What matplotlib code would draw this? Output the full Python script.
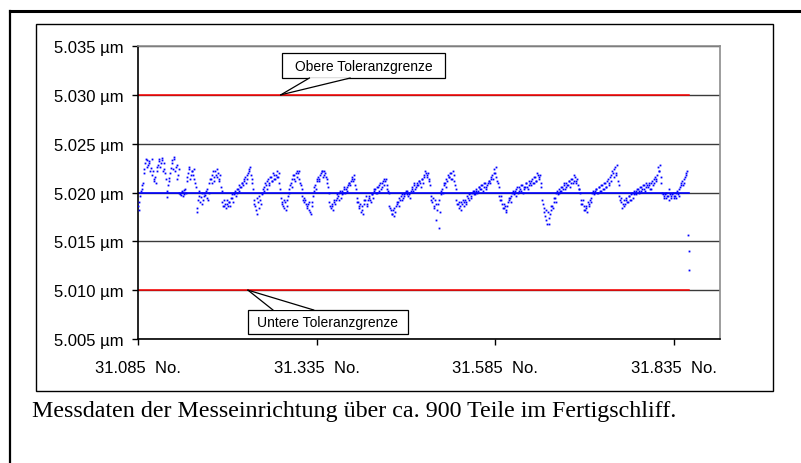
import numpy as np
import matplotlib.pyplot as plt
from matplotlib.patches import Rectangle, Polygon
from matplotlib.lines import Line2D

# Messwerte: Abweichung vom Nennmass 5.020 um, in 0.1 nm
# dev_a = gerade Teilenummern, dev_b = ungerade Teilenummern
dev_a = [-14, -10, 2, 8,
         20, 30, 33, 28, 32, 25,
         18, 12, 16, 22,
         28, 34, 30, 33, 24, 20,
         -5, 8, 15,
         25, 30, 34, 22, 28, 18,
         0, -3, 2, -2, 4,
         12, 20, 24, 18, 22, 14, 10,
         -16, -8, 2, -5, -12, 0, -3, 4, -8,
         10, 14, 18, 12, 22, 16, 20, 14, 6,
         -10, -14, -12, -8, -14, -10, -6,
         -6, -2, 2, 0, 4, 8, 6, 10, 12, 16, 14, 20, 24,
         18, 10,
         -8, -14, -22, -10, -4, -12,
         0, 6, 10, 4, 14, 10, 16, 12, 18, 14, 22, 16, 10,
         -6, -12, -16, -10, -14, -4,
         4, 10, 14, 18, 12, 22, 20, 14, 8,
         -4, -10, -8, -14, -12, -18, -22, -10,
         2, 8, 12, 16, 14, 20, 22, 18, 20, 14, 6,
         -10, -16, -14, -8, -12, -6,
         -4, 0, -6, 2, 4, 0, 6, 8, 10, 12, 16, 14, 8,
         -6, -10, -16, -20, -14, -12, -8,
         -12, -8, -4, -10, -2, 2, 4, 0, 6, 8, 4, 10, 14, 12, 8, 2,
         -14, -18, -22, -16, -20, -12,
         -10, -6, -4, -8, -2, 0, 2, -4, -2,
         2, 6, 8, 4, 10, 8, 12, 6, 14, 18, 22, 16, 20, 12,
         -4, -10, -14, -8, -28, -12, -36,
         -2, 4, 8, 10, 14, 18, 16, 20, 14, 18, 8,
         -8, -12, -16, -10, -12, -14, -8, -10,
         -6, -2, -4, 0, 2, -2, 4, 2, 6, 4, 8, 6, 10, 6, 10, 12, 14, 18, 24, 20, 16, 10,
         -4, -8, -12, -16, -14, -20, -10,
         -8, -4, 0, -2, 2, 4, 0, 6, 2, 8, 4, 6, 10, 4, 12, 8, 14, 10, 16, 12, 18, 14, 10,
         -8, -16, -24, -28, -20, -32, -18, -14, -10,
         -6, 0, -2, 4, 2, 6, 8, 4, 10, 8, 12, 10, 14, 12, 16, 10, 8, 4,
         -8, -12, -14, -18, -16, -10, -14, -6,
         0, -2, 2, 4, 0, 6, 2, 8, 4, 10, 6, 14, 10, 18, 22, 16, 26, 20, 12,
         -4, -10, -16, -8, -12, -6, -10, -4, -8, 0, -2,
         0, 2, 4, 2, 6, 4, 8, 2, 10, 6, 8, 4, 12, 10, 16, 14, 26, 22, 16,
         0, -4, -2, -6, -4, 4, -4, -2, -6, -4, 0, -2,
         4, 8, 12, 10, 16, 20]

dev_b = [-18, -4, 4, 10,
         24, 34, 26, 30, 22, 34,
         22, 14, 10, 26,
         32, 26, 35, 22, 30, 14,
         2, 12, 20,
         33, 24, 36, 26, 14, 24,
         -2, 1, -4, 3, 0,
         16, 26, 14, 22, 18, 24, 6,
         -20, -4, -10, 0, -8, -4, 2, -6, 0,
         14, 10, 22, 16, 18, 24, 12, 18, 2,
         -14, -8, -16, -12, -10, -14, -2,
         -10, 0, -4, 4, 2, 6, 10, 8, 14, 10, 18, 22, 26,
         14, 4,
         -12, -18, -6, -16, -8, -2,
         4, 2, 8, 12, 8, 16, 12, 20, 14, 18, 16, 20, 4,
         -10, -14, -8, -18, -8, 0,
         8, 6, 18, 14, 20, 16, 22, 10, 4,
         -8, -6, -12, -16, -10, -20, -14, -4,
         6, 4, 14, 12, 18, 22, 16, 22, 16, 10, 0,
         -14, -12, -18, -10, -8, -2,
         -8, 2, -2, 0, 6, 4, 2, 10, 8, 14, 12, 18, 4,
         -10, -14, -12, -18, -22, -8, -4,
         -14, -6, -8, -2, -6, 4, 0, 6, 2, 10, 6, 12, 8, 14, 4, 0,
         -16, -22, -18, -24, -14, -10,
         -14, -8, -2, -6, -4, 2, -2, 0, -6,
         4, 2, 10, 6, 8, 12, 10, 14, 10, 16, 20, 18, 14, 8,
         -8, -6, -16, -12, -18, -8, -20,
         2, 0, 10, 6, 12, 16, 20, 14, 22, 12, 4,
         -12, -10, -14, -18, -8, -10, -12, -4,
         -8, 0, -6, 2, -2, 2, 0, 6, 4, 8, 2, 10, 4, 8, 12, 10, 16, 14, 20, 26, 12, 6,
         -8, -4, -16, -12, -18, -14, -6,
         -6, -10, 2, 0, -4, 6, 2, 4, 8, 0, 6, 10, 6, 8, 10, 12, 10, 16, 12, 20, 16, 18, 6,
         -12, -20, -18, -32, -26, -22, -14, -16, -6,
         -10, 2, 0, 2, 6, 4, 10, 6, 8, 12, 6, 14, 10, 18, 12, 14, 4, 0,
         -12, -8, -18, -14, -20, -12, -8, -10,
         2, 0, 4, 0, 6, 2, 8, 4, 10, 6, 12, 8, 16, 12, 20, 24, 18, 28, 8,
         -8, -6, -12, -14, -8, -10, -4, -8, -2, -6, 2,
         -2, 4, 0, 6, 2, 8, 4, 6, 8, 10, 4, 10, 8, 14, 12, 18, 22, 28, 10,
         -2, -6, 0, -4, -8, -2, -6, 0, -4, -6, 2, -4,
         6, 10, 8, 14, 18, 22]

# die drei letzten Teile (Ausreisser)
dev_end = [-44, -60, -79]

start_no = 31085
nominal = 5.020
upper_tol = 5.030
lower_tol = 5.010

xticks = [31085, 31335, 31585, 31835]
xtick_labels = ['31.085  No.', '31.335  No.', '31.585  No.', '31.835  No.']
yticks = [5.005, 5.010, 5.015, 5.020, 5.025, 5.030, 5.035]
ytick_labels = ['5.005 µm', '5.010 µm', '5.015 µm', '5.020 µm',
                '5.025 µm', '5.030 µm', '5.035 µm']

caption = 'Messdaten der Messeinrichtung über ca. 900 Teile im Fertigschliff.'

n = len(dev_a)
parts = np.empty(2 * n + len(dev_end))
dev = np.empty_like(parts)
parts[0:2 * n:2] = start_no + 2 * np.arange(n)
parts[1:2 * n:2] = start_no + 2 * np.arange(n) + 1
dev[0:2 * n:2] = dev_a
dev[1:2 * n:2] = dev_b
parts[2 * n:] = start_no + 2 * n + np.arange(len(dev_end))
dev[2 * n:] = dev_end
values = nominal + dev / 10000.0

W, H = 801, 464
fig = plt.figure(figsize=(W / 100, H / 100), dpi=100)
plt.rcParams['font.family'] = ['Liberation Sans', 'DejaVu Sans']

def fx(px):
    return px / W

def fy(py):
    return 1 - py / H

ax = fig.add_axes([fx(138), fy(340), fx(720 - 138), (340 - 47) / H])

# Gitterlinien
for yv in yticks:
    ax.axhline(yv, color='#3a3a3a', lw=1.0, zorder=1)

# Nennmass und Toleranzgrenzen ueber den Datenbereich
x_rng = [parts[0], parts[-1]]
ax.plot(x_rng, [upper_tol, upper_tol], color='#ff0000', lw=1.1, zorder=2)
ax.plot(x_rng, [lower_tol, lower_tol], color='#ff0000', lw=1.1, zorder=2)
ax.plot(x_rng, [nominal, nominal], color='#0000ff', lw=1.2, zorder=2)

ax.plot(parts, values, ls='none', marker='s', ms=1.3, mew=0,
        color='#0000ff', zorder=3)

ax.set_xlim(31085, 31900)
ax.set_ylim(5.005, 5.035)
ax.set_xticks(xticks)
ax.set_xticklabels(xtick_labels)
ax.set_yticks(yticks)
ax.set_yticklabels(ytick_labels)
ax.tick_params(axis='both', labelsize=12, length=4, width=1, color='black',
               direction='out')
ax.tick_params(axis='y', pad=6)
ax.tick_params(axis='x', pad=11)

for s in ['left', 'bottom']:
    ax.spines[s].set_color('black')
    ax.spines[s].set_linewidth(1.2)
for s in ['top', 'right']:
    ax.spines[s].set_color('#8c8c8c')
    ax.spines[s].set_linewidth(1.2)


def callout(x0, x1, y0, y1, tip, base, text):
    ax.add_patch(Rectangle((x0, y0), x1 - x0, y1 - y0, facecolor='white',
                           edgecolor='black', lw=0.9, zorder=5))
    ax.add_patch(Polygon([tip, base[0], base[1]], closed=True,
                         facecolor='white', edgecolor='none', zorder=6))
    for b in base:
        ax.plot([tip[0], b[0]], [tip[1], b[1]], color='black', lw=0.9,
                zorder=7)
    ax.text((x0 + x1) / 2, (y0 + y1) / 2, text, ha='center', va='center',
            fontsize=10, zorder=8)


callout(31287, 31515, 5.03172, 5.03428, (31285, 5.0300),
        [(31325, 5.03172), (31382, 5.03172)], 'Obere Toleranzgrenze')
callout(31239, 31463, 5.00551, 5.00797, (31239, 5.0100),
        [(31274, 5.00797), (31331, 5.00797)], 'Untere Toleranzgrenze')

# Rahmen
fig.add_artist(Rectangle((fx(36), fy(392)), fx(773 - 36), (392 - 25) / H,
                         transform=fig.transFigure, fill=False,
                         edgecolor='black', lw=1.0))
fig.add_artist(Line2D([fx(10), 1], [fy(12), fy(12)],
                      transform=fig.transFigure, color='black', lw=2.2))
fig.add_artist(Line2D([fx(10), fx(10)], [fy(12), 0],
                      transform=fig.transFigure, color='black', lw=1.6))

fig.text(fx(32), fy(412), caption, ha='left', va='center',
         family=['Liberation Serif', 'DejaVu Serif'], fontsize=17.3)

fig.savefig('out.png', dpi=100)
